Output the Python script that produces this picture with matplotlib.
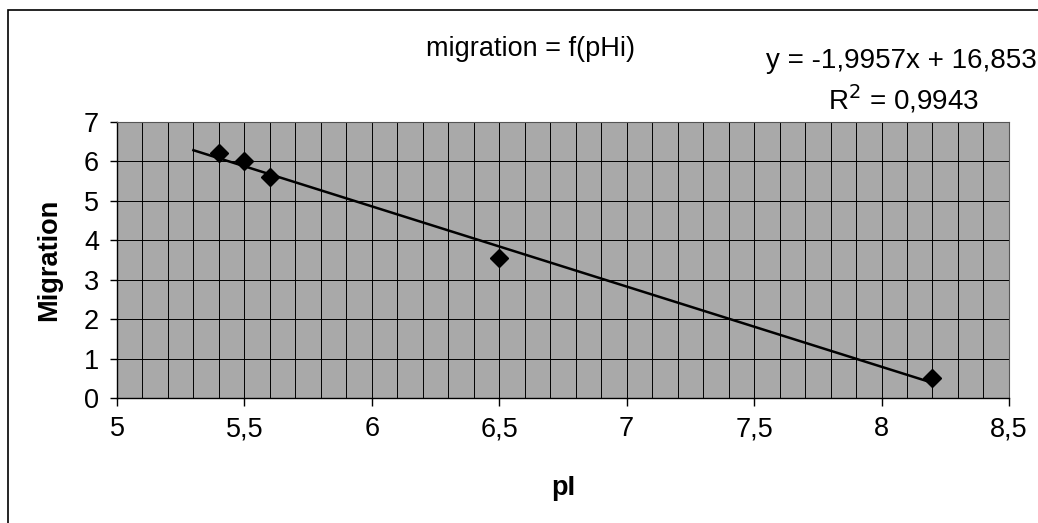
import numpy as np
import matplotlib
matplotlib.use("Agg")
import matplotlib.pyplot as plt
from matplotlib.ticker import MultipleLocator, FuncFormatter
from matplotlib.patches import Rectangle

plt.rcParams["font.family"] = ["Liberation Sans", "DejaVu Sans"]

# ── Data ─────────────────────────────────────────────────────────
pI = [5.4, 5.5, 5.6, 6.5, 8.2]
migration = [6.2, 6.0, 5.6, 3.55, 0.5]

title = "migration = f(pHi)"
equation = "y = -1,9957x + 16,853"
r_squared = "R$^2$ = 0,9943"

FS = 19.5


def comma(v, pos):
    return f"{v:g}".replace(".", ",")


fig = plt.figure(figsize=(10.38, 5.23), dpi=100)
ax = fig.add_axes([0.1127, 0.239, 0.8593, 0.528])

ax.set_facecolor("#a9a9a9")

# linear trend, drawn back 0.1 before the first point like the original
slope, intercept = np.polyfit(pI, migration, 1)
xt = np.array([min(pI) - 0.1, max(pI)])
ax.plot(xt, slope * xt + intercept, color="black", linewidth=1.8, zorder=3)

ax.plot(pI, migration, linestyle="none", marker="D", markersize=9,
        color="black", zorder=4)

ax.set_xlim(5, 8.5)
ax.set_ylim(0, 7)
ax.xaxis.set_major_locator(MultipleLocator(0.5))
ax.xaxis.set_minor_locator(MultipleLocator(0.1))
ax.yaxis.set_major_locator(MultipleLocator(1))
ax.xaxis.set_major_formatter(FuncFormatter(comma))

ax.grid(which="minor", axis="x", color="black", linewidth=0.7)
ax.grid(which="major", axis="both", color="black", linewidth=0.7)
ax.set_axisbelow(True)

ax.tick_params(axis="x", which="major", direction="out", length=6,
               width=1, labelsize=FS, pad=7)
ax.tick_params(axis="x", which="minor", length=0)
ax.tick_params(axis="y", direction="out", length=5, width=1,
               labelsize=FS, pad=8)

for side in ["top", "right"]:
    ax.spines[side].set_color("#555555")
    ax.spines[side].set_linewidth(0.8)
for side in ["left", "bottom"]:
    ax.spines[side].set_linewidth(1.0)

ax.set_xlabel("pI", fontsize=FS, fontweight="bold")
ax.set_ylabel("Migration", fontsize=FS, fontweight="bold")
ax.xaxis.set_label_coords(0.5, -0.28)
ax.yaxis.set_label_coords(-0.062, 0.5)

fig.text(0.511, 0.906, title, fontsize=FS, ha="center", va="center")
fig.text(0.868, 0.883, equation, fontsize=20, ha="center", va="center")
fig.text(0.870, 0.811, r_squared, fontsize=20, ha="center", va="center")

# chart frame (only left and top edges are inside the picture)
fig.patches.append(Rectangle((0.008, -0.05), 1.1, 1.03, transform=fig.transFigure,
                             fill=False, edgecolor="black", linewidth=1.2))

fig.savefig("out.png", dpi=100)
